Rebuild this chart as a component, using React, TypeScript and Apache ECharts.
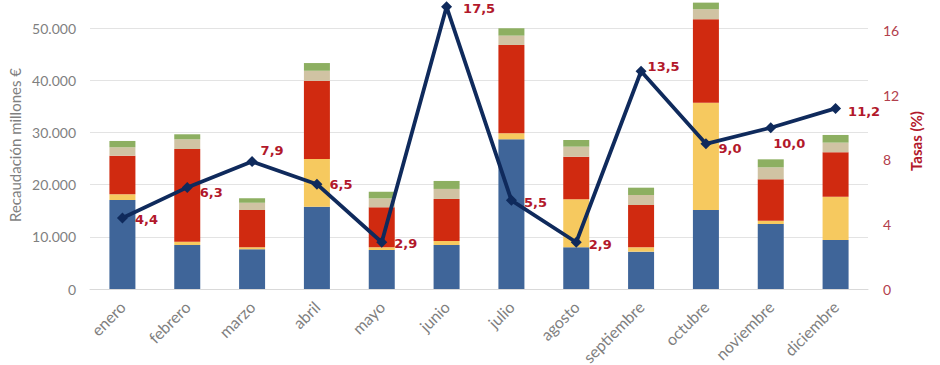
import React, { useEffect, useRef } from "react";
import * as echarts from "echarts";

const months = ["enero", "febrero", "marzo", "abril", "mayo", "junio", "julio", "agosto", "septiembre", "octubre", "noviembre", "diciembre"];
const serieAzul = [17050, 8430, 7600, 15770, 7470, 8430, 28680, 7990, 7150, 15140, 12450, 9390];
const serieAmarilla = [1090, 630, 380, 9120, 520, 770, 1150, 9200, 840, 20560, 630, 8300];
const serieRoja = [7400, 17760, 7150, 15000, 7660, 8050, 16920, 8160, 8100, 15980, 7930, 8510];
const serieBeige = [1610, 1860, 1400, 1920, 1720, 1920, 1790, 1920, 1920, 1920, 2300, 1840];
const serieVerde = [1210, 960, 840, 1475, 1260, 1530, 1410, 1280, 1400, 1260, 1530, 1470];
const tasas = [4.4, 6.3, 7.9, 6.5, 2.9, 17.5, 5.5, 2.9, 13.5, 9.0, 10.0, 11.2];
const leftTicks = [0, 10000, 20000, 30000, 40000, 50000];
const rightTicks = [0, 4, 8, 12, 16];

const labelOffsets: number[][] = [
  [2, 1], [2, 5], [-2, -11], [2, 0], [2, 1], [6, 2],
  [2, 2], [2, 2], [-4, -5], [2, 5], [-8, 16], [2, 3],
];

export default function App() {
  const ref = useRef<HTMLDivElement>(null);
  useEffect(() => {
    document.body.style.margin = "0";
    if (!ref.current) return;
    const chart = echarts.init(ref.current, undefined, { renderer: "svg" });
    const font = "Lato";
    const gray = "#7f7f7f";
    const darkRed = "#b2182b";
    const barSeries = [
      { name: "A", data: serieAzul, color: "#3f6599" },
      { name: "B", data: serieAmarilla, color: "#f6c95f" },
      { name: "C", data: serieRoja, color: "#d02a10" },
      { name: "D", data: serieBeige, color: "#d0c3a3" },
      { name: "E", data: serieVerde, color: "#8daf61" },
    ].map((s) => ({
      type: "bar",
      name: s.name,
      stack: "total",
      data: s.data,
      barWidth: 26,
      itemStyle: { color: s.color },
      yAxisIndex: 0,
    }));
    const lineData = tasas.map((v, i) => ({
      value: v,
      label: { offset: labelOffsets[i] },
    }));
    chart.setOption({
      animation: false,
      grid: { left: 90, right: 72, top: 0, bottom: 76, containLabel: false, outerBoundsMode: "none" },
      xAxis: {
        type: "category",
        data: months,
        axisTick: { show: false },
        axisLine: { lineStyle: { color: "#d9d9d9", width: 1 } },
        axisLabel: { rotate: 45, color: gray, fontFamily: font, fontSize: 16, margin: 15, interval: 0 },
      },
      yAxis: [
        {
          type: "value",
          min: leftTicks[0],
          max: 55364,
          interval: leftTicks[1] - leftTicks[0],
          axisLine: { show: false },
          axisTick: { show: false },
          splitLine: { showMaxLine: false, lineStyle: { color: "#e3e3e3", width: 1 } },
          axisLabel: {
            color: gray,
            fontFamily: font,
            fontSize: 14,
            margin: 14,
            showMaxLabel: false,
            formatter: (v: number) => (leftTicks.includes(v) ? v.toLocaleString("de-DE") : ""),
          },
        },
        {
          type: "value",
          min: rightTicks[0],
          max: 17.92,
          interval: rightTicks[1] - rightTicks[0],
          axisLine: { show: false },
          axisTick: { show: false },
          splitLine: { show: false },
          axisLabel: {
            color: "#b2404c",
            fontFamily: font,
            fontSize: 14,
            margin: 15,
            showMaxLabel: false,
            formatter: (v: number) => (rightTicks.includes(v) ? String(v) : ""),
          },
        },
      ],
      series: [
        ...barSeries,
        {
          type: "line",
          name: "Tasas",
          yAxisIndex: 1,
          data: lineData,
          symbol: "diamond",
          symbolSize: 11,
          lineStyle: { color: "#0f2a5c", width: 3.8 },
          itemStyle: { color: "#0f2a5c" },
          z: 10,
          label: {
            show: true,
            position: "right",
            color: darkRed,
            fontFamily: "DejaVu Sans",
            fontWeight: "bold",
            fontSize: 13,
            formatter: (p: any) => Number(p.value).toFixed(1).replace(".", ","),
          },
        },
      ],
      graphic: [
        {
          type: "text",
          x: 15,
          y: 145,
          rotation: Math.PI / 2,
          style: {
            text: "Recaudación millones €",
            fill: gray,
            font: `15px ${font}`,
            textAlign: "center",
            textVerticalAlign: "middle",
          },
        },
        {
          type: "text",
          x: 916,
          y: 141,
          rotation: Math.PI / 2,
          style: {
            text: "Tasas (%)",
            fill: darkRed,
            font: `bold 15px ${font}`,
            textAlign: "center",
            textVerticalAlign: "middle",
          },
        },
      ],
    });
    return () => chart.dispose();
  }, []);
  return <div ref={ref} style={{ width: 940, height: 365 }} />;
}
